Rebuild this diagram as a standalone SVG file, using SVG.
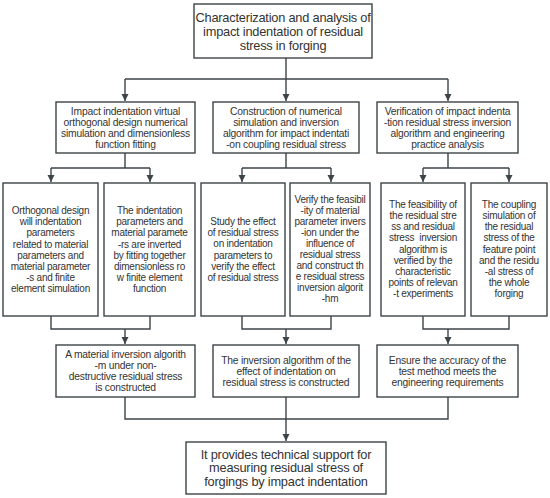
<svg xmlns="http://www.w3.org/2000/svg" width="550" height="498" viewBox="0 0 550 498">
<style>
.box{fill:#fff;stroke:#3c4448;stroke-width:1.4}
.c{fill:none;stroke:#3c4448;stroke-width:1.4}
text{font-family:"Liberation Sans",Arial,sans-serif;fill:#333;text-anchor:middle;dominant-baseline:central}
.t1{font-size:12.8px;letter-spacing:-0.22px}
.t2{font-size:10.3px;letter-spacing:-0.2px}
.t3{font-size:10px;letter-spacing:-0.25px}
</style>
<defs>
<marker id="ah" markerUnits="userSpaceOnUse" markerWidth="8" markerHeight="8" refX="7" refY="4" orient="auto">
<path d="M0,0.5 L7,4 L0,7.5 z" fill="#3c4448"/>
</marker>
</defs>
<g id="connectors">
<path class="c" d="M286,58 V79 M125,79 H448"/>
<path class="c" d="M125,79 V101" marker-end="url(#ah)"/>
<path class="c" d="M286,79 V101" marker-end="url(#ah)"/>
<path class="c" d="M448,79 V101" marker-end="url(#ah)"/>
<path class="c" d="M125,153 V168 M51,168 H150 M286,153 V168 M242,168 H331 M448,153 V168 M423,168 H509"/>
<path class="c" d="M51,168 V182" marker-end="url(#ah)"/>
<path class="c" d="M150,168 V182" marker-end="url(#ah)"/>
<path class="c" d="M242,168 V182" marker-end="url(#ah)"/>
<path class="c" d="M331,168 V182" marker-end="url(#ah)"/>
<path class="c" d="M423,168 V182" marker-end="url(#ah)"/>
<path class="c" d="M509,168 V182" marker-end="url(#ah)"/>
<path class="c" d="M51,316 V329 H150 V316 M242,316 V329 H331 V316 M423,316 V329 H509 V316"/>
<path class="c" d="M125,329 V344" marker-end="url(#ah)"/>
<path class="c" d="M286,329 V344" marker-end="url(#ah)"/>
<path class="c" d="M448,329 V344" marker-end="url(#ah)"/>
<path class="c" d="M125,397 V419 H448 V397"/>
<path class="c" d="M286,397 V441" marker-end="url(#ah)"/>
</g>
<g id="n-top">
<rect class="box" x="194" y="4" width="178" height="54"/>
<text class="t1" x="283" y="17">Characterization and analysis of</text>
<text class="t1" x="283" y="31">impact indentation of residual</text>
<text class="t1" x="283" y="45">stress in forging</text>
</g>
<g id="n-a">
<rect class="box" x="56" y="102" width="139" height="51"/>
<text class="t2" x="125.5" y="111">Impact indentation virtual</text>
<text class="t2" x="125.5" y="122">orthogonal design numerical</text>
<text class="t2" x="125.5" y="133">simulation and dimensionless</text>
<text class="t2" x="125.5" y="144">function fitting</text>
</g>
<g id="n-b">
<rect class="box" x="213" y="102" width="146" height="51"/>
<text class="t2" x="286" y="111">Construction of numerical</text>
<text class="t2" x="286" y="122">simulation and inversion</text>
<text class="t2" x="286" y="133">algorithm for impact indentati</text>
<text class="t2" x="286" y="144">-on coupling residual stress</text>
</g>
<g id="n-c">
<rect class="box" x="377" y="102" width="141" height="51"/>
<text class="t2" x="447.5" y="111">Verification of impact indenta</text>
<text class="t2" x="447.5" y="122">-tion residual stress inversion</text>
<text class="t2" x="447.5" y="133">algorithm and engineering</text>
<text class="t2" x="447.5" y="144">practice analysis</text>
</g>
<g id="n-a1">
<rect class="box" x="3" y="183" width="95" height="133"/>
<text class="t3" x="50.5" y="210.7">Orthogonal design</text>
<text class="t3" x="50.5" y="221.8">will indentation</text>
<text class="t3" x="50.5" y="232.9">parameters</text>
<text class="t3" x="50.5" y="244">related to material</text>
<text class="t3" x="50.5" y="255.1">parameters and</text>
<text class="t3" x="50.5" y="266.2">material parameter</text>
<text class="t3" x="50.5" y="277.3">-s and finite</text>
<text class="t3" x="50.5" y="288.4">element simulation</text>
</g>
<g id="n-a2">
<rect class="box" x="104" y="183" width="91" height="133"/>
<text class="t3" x="149.5" y="210.7">The indentation</text>
<text class="t3" x="149.5" y="221.8">parameters and</text>
<text class="t3" x="149.5" y="232.9">material paramete</text>
<text class="t3" x="149.5" y="244">-rs are inverted</text>
<text class="t3" x="149.5" y="255.1">by fitting together</text>
<text class="t3" x="149.5" y="266.2">dimensionless ro</text>
<text class="t3" x="149.5" y="277.3">w finite element</text>
<text class="t3" x="149.5" y="288.4">function</text>
</g>
<g id="n-b1">
<rect class="box" x="201" y="183" width="84" height="133"/>
<text class="t3" x="243" y="221.7">Study the effect</text>
<text class="t3" x="243" y="232.8">of residual stress</text>
<text class="t3" x="243" y="243.9">on indentation</text>
<text class="t3" x="243" y="255">parameters to</text>
<text class="t3" x="243" y="266.1">verify the effect</text>
<text class="t3" x="243" y="277.2">of residual stress</text>
</g>
<g id="n-b2">
<rect class="box" x="290" y="183" width="80" height="133"/>
<text class="t3" x="330" y="199">Verify the feasibil</text>
<text class="t3" x="330" y="210.1">-ity of material</text>
<text class="t3" x="330" y="221.2">parameter invers</text>
<text class="t3" x="330" y="232.3">-ion under the</text>
<text class="t3" x="330" y="243.4">influence of</text>
<text class="t3" x="330" y="254.5">residual stress</text>
<text class="t3" x="330" y="265.6">and construct th</text>
<text class="t3" x="330" y="276.7">e residual stress</text>
<text class="t3" x="330" y="287.8">inversion algorit</text>
<text class="t3" x="330" y="298.9">-hm</text>
</g>
<g id="n-c1">
<rect class="box" x="381" y="183" width="84" height="133"/>
<text class="t3" x="423" y="204.3">The feasibility of</text>
<text class="t3" x="423" y="215.5">the residual stre</text>
<text class="t3" x="423" y="226.7">ss and residual</text>
<text class="t3" x="423" y="237.9" xml:space="preserve">stress  inversion</text>
<text class="t3" x="423" y="249.1">algorithm is</text>
<text class="t3" x="423" y="260.3">verified by the</text>
<text class="t3" x="423" y="271.5">characteristic</text>
<text class="t3" x="423" y="282.7">points of relevan</text>
<text class="t3" x="423" y="293.9">-t experiments</text>
</g>
<g id="n-c2">
<rect class="box" x="471" y="183" width="76" height="133"/>
<text class="t3" x="509" y="204.3">The coupling</text>
<text class="t3" x="509" y="215.5">simulation of</text>
<text class="t3" x="509" y="226.7">the residual</text>
<text class="t3" x="509" y="237.9">stress of the</text>
<text class="t3" x="509" y="249.1">feature point</text>
<text class="t3" x="509" y="260.3">and the residu</text>
<text class="t3" x="509" y="271.5">-al stress of</text>
<text class="t3" x="509" y="282.7">the whole</text>
<text class="t3" x="509" y="293.9">forging</text>
</g>
<g id="n-a3">
<rect class="box" x="56" y="345" width="139" height="52"/>
<text class="t2" x="125.5" y="354.3">A material inversion algorith</text>
<text class="t2" x="125.5" y="365.5">-m under non-</text>
<text class="t2" x="125.5" y="376.7">destructive residual stress</text>
<text class="t2" x="125.5" y="387.9">is constructed</text>
</g>
<g id="n-b3">
<rect class="box" x="213" y="345" width="146" height="52"/>
<text class="t2" x="286" y="360.5">The inversion algorithm of the</text>
<text class="t2" x="286" y="371.5">effect of indentation on</text>
<text class="t2" x="286" y="382.5">residual stress is constructed</text>
</g>
<g id="n-c3">
<rect class="box" x="377" y="345" width="141" height="52"/>
<text class="t2" x="447.5" y="360.5">Ensure the accuracy of the</text>
<text class="t2" x="447.5" y="371.5">test method meets the</text>
<text class="t2" x="447.5" y="382.5">engineering requirements</text>
</g>
<g id="n-end">
<rect class="box" x="186" y="442" width="200" height="52"/>
<text class="t1" x="286" y="454">It provides technical support for</text>
<text class="t1" x="286" y="467.5">measuring residual stress of</text>
<text class="t1" x="286" y="481">forgings by impact indentation</text>
</g>
</svg>
